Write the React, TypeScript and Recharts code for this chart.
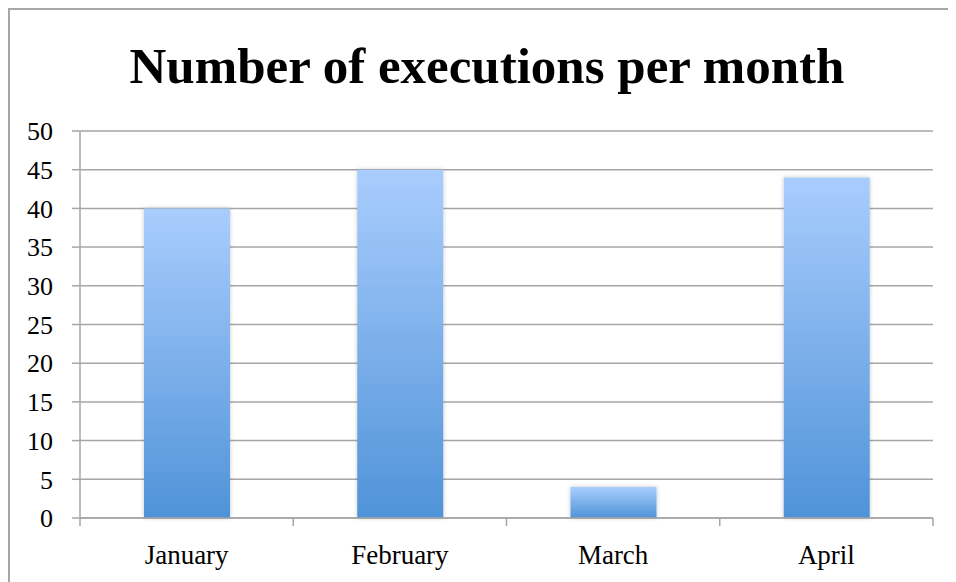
import React from "react";
import {
  BarChart,
  Bar,
  XAxis,
  YAxis,
  CartesianGrid,
} from "recharts";

const months = ["January", "February", "March", "April"];
const executions = [40, 45, 4, 44];
const yTicks = [0, 5, 10, 15, 20, 25, 30, 35, 40, 45, 50];

const data = months.map((month, i) => ({ month, executions: executions[i] }));

const font = "'Liberation Serif', 'Times New Roman', serif";
const gridColor = "#a6a6a6";
const TICK_SIZE = 8;
const TICK_MARGIN = 19;

// category labels centred, tick marks drawn on the category boundaries
const MonthTick = (props: any) => {
  const { x, y, payload, index } = props;
  const half = payload.offset || 0;
  const axisY = y - TICK_SIZE - TICK_MARGIN;
  const last = index === months.length - 1;
  return (
    <g>
      <line
        x1={x - half}
        x2={x - half}
        y1={axisY}
        y2={axisY + TICK_SIZE}
        stroke={gridColor}
        strokeWidth={1.5}
      />
      {last && (
        <line
          x1={x + half}
          x2={x + half}
          y1={axisY}
          y2={axisY + TICK_SIZE}
          stroke={gridColor}
          strokeWidth={1.5}
        />
      )}
      <text
        x={x}
        y={y}
        dy="0.71em"
        textAnchor="middle"
        fontFamily={font}
        fontSize={27}
        fill="#000"
      >
        {payload.value}
      </text>
    </g>
  );
};

const ExecutionsChart = () => {
  return (
    <div
      style={{
        position: "relative",
        width: 950,
        height: 600,
        border: `2px solid ${gridColor}`,
        boxSizing: "border-box",
        background: "#fff",
      }}
    >
      <div
        style={{
          position: "absolute",
          left: 0,
          top: 31,
          width: 954,
          textAlign: "center",
          fontFamily: font,
          fontWeight: "bold",
          fontSize: 51,
          lineHeight: 1,
          color: "#000",
        }}
      >
        Number of executions per month
      </div>
      <BarChart
        width={946}
        height={580}
        data={data}
        margin={{ top: 121, right: 23, left: 0, bottom: 32 }}
      >
        <defs>
          <linearGradient id="barFill" x1="0" y1="0" x2="0" y2="1">
            <stop offset="0%" stopColor="#a9cdfd" />
            <stop offset="100%" stopColor="#4f93d8" />
          </linearGradient>
          <filter id="barShadow" x="-20%" y="-20%" width="140%" height="140%">
            <feDropShadow dx="0" dy="0" stdDeviation="2" floodColor="#000" floodOpacity="0.22" />
          </filter>
        </defs>
        <CartesianGrid vertical={false} stroke={gridColor} strokeWidth={1.5} />
        <XAxis
          dataKey="month"
          height={40}
          interval={0}
          tickSize={TICK_SIZE}
          tickMargin={TICK_MARGIN}
          axisLine={{ stroke: gridColor, strokeWidth: 1.5 }}
          tickLine={false}
          tick={<MonthTick />}
        />
        <YAxis
          width={70}
          domain={[0, 50]}
          ticks={yTicks}
          interval={0}
          tickSize={TICK_SIZE}
          tickMargin={TICK_MARGIN}
          axisLine={{ stroke: gridColor, strokeWidth: 1.5 }}
          tickLine={{ stroke: gridColor, strokeWidth: 1.5 }}
          tick={{ fontFamily: font, fontSize: 26, fill: "#000" }}
        />
        <Bar
          dataKey="executions"
          barSize={86}
          fill="url(#barFill)"
          filter="url(#barShadow)"
          isAnimationActive={false}
        />
      </BarChart>
    </div>
  );
};

export default ExecutionsChart;
